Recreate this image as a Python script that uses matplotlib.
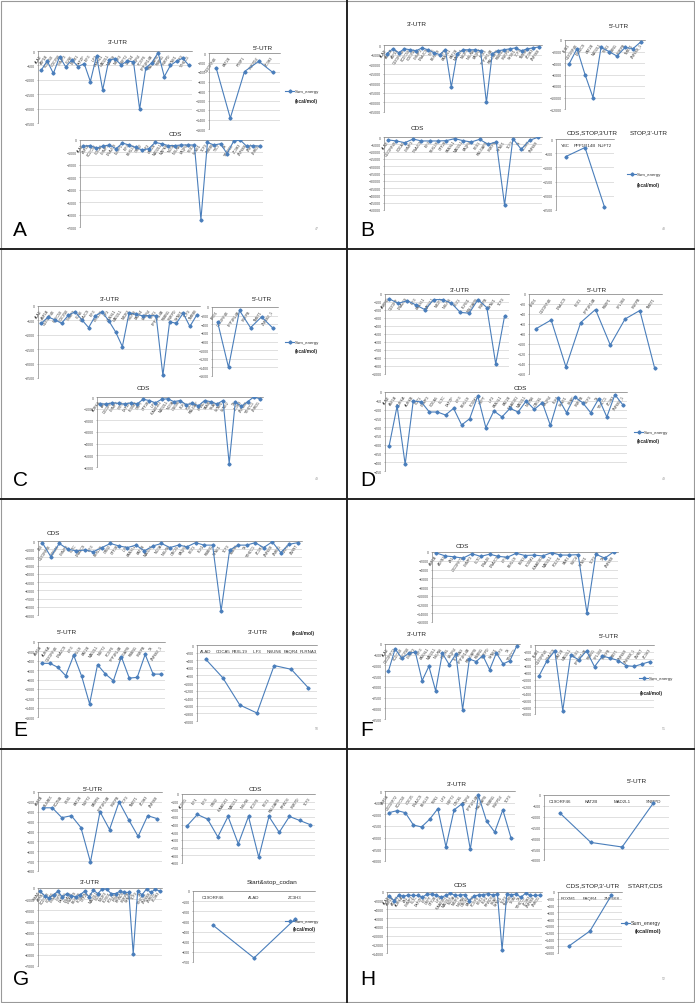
import numpy as np
import matplotlib
matplotlib.use("Agg")
import matplotlib.pyplot as plt
from matplotlib.lines import Line2D

plt.rcParams['font.family'] = ['Liberation Sans', 'DejaVu Sans']

# ---------------- data (Sum_energy, kcal/mol) ----------------
# panel A
a_utr3_genes = ["ALAD", "ATP1B", "CCDC50", "CDC25B", "CHMP3", "CLN6", "DCLK1", "DKFZP", "EIF3",
                "ILF3", "KANSL1", "MAD2L1", "MAPK8", "NR2F2", "NUFT2", "PA2G4", "PAQR4", "PCGF6",
                "PPP1R14B", "RALGAPB", "RSBN1", "SNRPD", "SYNE1", "TCF3", "YTHDC1"]
a_utr3_energy = [-670, -350, -780, -200, -550, -310, -540, -440, -1060, -170, -1350, -310, -270,
                 -480, -350, -370, -2020, -590, -400, -60, -890, -500, -350, -250, -500]
a_utr5_genes = ["C19ORF46", "KAT2B", "PTBP1", "SNRPD2", "ZC3H3"]
a_utr5_energy = [-310, -1370, -390, -175, -410]
a_cds_genes = ["ALAD", "ASF1B", "CCDC50", "CDCA5", "CHMP3", "DNAJC9", "DUSP1", "EIF3", "FBXL19",
               "GRB2", "ILF3", "KAT2B", "MAD2L1", "MAPK8", "NCOA", "NSUN6", "PAQR4", "PEX1", "SYNE1",
               "TCF3", "TMBIM", "TTC7", "TX", "YTHDC1", "ZC3H3", "ZNF668", "ZNF7", "ZNRD1"]
a_cds_energy = [-500, -450, -650, -500, -400, -700, -250, -400, -600, -800, -700, -200, -300, -450,
                -450, -400, -400, -400, -6400, -200, -400, -300, -1100, -100, 0, -500, -450, -500]

# panel B
b_utr3_genes = ["ALAD", "ASF1B", "ATP1B", "C19ORF46", "CCDC50", "CDC25B", "CHMP3", "DNAJC9", "EIF3",
                "FBXL19", "ILF3", "KANSL1", "KAT2B", "MAD2L1", "NR2F2", "NSUN6", "PAQR4", "PEX1",
                "PPP1R14B", "RALGAPB", "RSBN1", "SNRPD", "SYNE1", "TCF3", "TMBIM", "ZC3H3", "ZNF668"]
b_utr3_energy = [-4500, -2000, -4000, -2000, -2500, -3000, -1500, -2500, -4000, -5000, -2500, -22000,
                 -4500, -2500, -2500, -2500, -3000, -30000, -4500, -3000, -2500, -2000, -1500, -3000,
                 -2000, -1500, -1000]
b_utr5_genes = ["BUB1", "C19ORF46", "DNAJC9", "KAT2B", "MAD2L1", "PEX1", "RSBN1", "SNRPB", "TMBT1",
                "ZNF668_1"]
b_utr5_energy = [-4200, -1500, -6000, -10000, -1300, -2000, -2800, -1300, -1500, -300]
b_cds_genes = ["ALAD", "C19ORF46", "CDCA5", "CHMP3", "DNAJC9", "EIF3", "FBXL19", "GTF2E", "KANSL1",
               "MAD2L1", "PAQR4", "PEX1", "RALGAPB", "SNRPB", "SYNE1", "TCF3", "TX", "ZC3H3", "ZNF668"]
b_cds_energy = [-2000, -2700, -3900, -1400, -2700, -2700, -2700, -2500, -1100, -2500, -3400, -1600,
                -5000, -3400, -46600, -1100, -8400, -2300, -200]
b_stop_genes = ["YBC", "PPP1R14B", "NUFT2"]
b_stop_energy = [-620, -300, -2380]

# panel C
c_utr3_genes = ["ALAD", "ASF1B", "C19ORF46", "CCDC50", "CDC25B", "CHMP3", "CLN6", "DNAJC9", "EIF3",
                "FBXL19", "ILF3", "KANSL1", "MAD2L1", "NR2F2", "NSUN6", "PA2G4", "PAQR4", "PEX1",
                "PPP1R14B", "RSBN1", "SNRPD", "SYNE1", "TCF3", "TMBIM"]
c_utr3_energy = [-600, -380, -480, -600, -320, -200, -480, -750, -340, -200, -520, -900, -1410, -230,
                 -290, -340, -330, -340, -2410, -550, -600, -250, -710, -320]
c_utr5_genes = ["BRD1", "C19ORF46", "PPP1R14B", "SNRPB", "TMBT1", "ZNF668_1"]
c_utr5_energy = [-340, -1400, -80, -480, -230, -480]
c_cds_genes = ["AURKA", "AXL", "C20ORF", "CHMP3", "CRTC", "DKFZP", "FOXM1", "GRPT", "GTF2E", "ILF3",
               "KIAA0101", "MAD2L1", "NCOA", "OSGIN", "PLK1", "PQLC", "RALGAP", "RFWD", "SAMD",
               "SKAP", "SYNE1", "SYNE2", "TX", "ZC3H3", "ZNF668", "YTHDC1", "ZNRD1"]
c_cds_energy = [-600, -600, -500, -550, -600, -500, -600, -200, -300, -500, -200, -150, -400, -300,
                -650, -550, -750, -300, -400, -600, -300, -5700, -400, -800, -400, 0, -150]

# panel D
d_utr3_genes = ["ANKRD", "C19ORF", "DNAJC9", "EIF3", "KANSL1", "MAD2L1", "NR2F2", "NSUN6", "PEX1",
                "PLRG1", "RALGAPB", "SNRPB", "SYNE1", "TCF3"]
d_utr3_energy = [-62, -117, -83, -137, -196, -70, -70, -115, -230, -240, -70, -170, -875, -275]
d_utr5_genes = ["BRD1", "C19ORF46", "DNAJC9", "PEX1", "PPP1R14B", "RSBP1", "SPL384", "SNRPB", "TMBT1"]
d_utr5_energy = [-69, -52, -146, -57, -31, -102, -50, -33, -148]
d_cds_genes = ["ALAD", "ASF1B", "AURKA", "AURKB", "CDT1", "CHMP3", "CDCA5", "CLTC", "DKFZP", "EIF3",
               "FBXL19", "FOXM1", "GRPT", "ILF3", "KANSL1", "KAT2B", "KIAA0101", "MAD2L1", "NSUN6",
               "ORC6L", "PAQR4", "PLK1", "SYNE1", "SKAP", "SNRPB", "TCF3", "TX", "YTHDC1", "ZC3H3",
               "ZNF668_1"]
d_cds_energy = [-310, -80, -412, -51, -57, -114, -114, -131, -93, -188, -152, -23, -203, -108, -142,
                -93, -114, -51, -99, -61, -190, -36, -118, -28, -61, -118, -38, -142, -15, -74]

# panel E
e_cds_genes = ["ABI", "C19ORF46", "CDCA5", "CHMP3", "CLTC", "DNAJC9", "EIF3", "FBXL19", "GRB2",
               "GTF2E", "ILF3", "KANSL1", "KAT2B", "MAD2L1", "NCOA", "NSUN6", "ORC6L", "PAQR4",
               "PEX1", "PLK1", "RSBN1", "SYNE1", "TCF3", "TMBIM", "TX", "YTHDC1", "ZC3H3", "ZNF668",
               "ZNRD1", "ZNF7", "ZWINT"]
e_cds_energy = [-200, -1900, -300, -1000, -1200, -1100, -1300, -800, -300, -600, -800, -500, -1200,
                -600, -300, -800, -500, -700, -200, -500, -500, -8500, -1100, -500, -500, -200, -800,
                -100, -1400, -400, -200]
e_utr5_genes = ["ASF1B", "AURKA", "C19ORF46", "DNAJC9", "EIF3", "FBXL19", "KAT2B", "MAD2L1", "NUFT2",
                "PCGF6", "PPP1R14B", "RALGAPB", "RSBN1", "SNRPB", "TX", "ZNF668_1"]
e_utr5_energy = [-455, -455, -540, -720, -285, -730, -1320, -485, -685, -825, -315, -770, -755, -265,
                 -685, -685]
e_utr3_genes = ["ALAD", "CDCA5", "FBXL19", "ILF3", "NSUN6", "PAQR4", "PLRNA3"]
e_utr3_energy = [-370, -860, -1580, -1790, -540, -640, -1130]

# panel F
f_cds_genes = ["ASF1B", "ATXN1", "AXL", "C20ORF72", "CHMP3", "CLTC", "DNAJB", "DNAJC9", "EIF3",
               "FBXL19", "FEN1", "FOXM1", "KIAA0101", "MAD2L1", "POLD1", "SAR1", "SMC4", "SYNE1",
               "TCF3", "TX", "ZNF668"]
f_cds_energy = [-230, -900, -1100, -1400, -400, -1000, -500, -1000, -1200, -300, -800, -700, -900,
                -150, -700, -700, -600, -14000, -500, -1400, 0]
f_utr3_genes = ["ALAD", "C20ORF72", "CCDC50", "CDC25B", "CHMP3", "EIF3", "KANSL1", "MAD2L1", "NSUN6",
                "ORC6L", "PAQR4", "PLRNA3", "PPP1R14B", "RALGAPB", "RSBN1", "SNRPD", "SYNE1", "TCF3",
                "TX", "YTHDC1"]
f_utr3_energy = [-1270, -230, -670, -430, -380, -1710, -1040, -2180, -430, -960, -470, -3060, -700,
                 -820, -540, -1200, -420, -930, -780, -110]
f_utr5_genes = ["BUB1", "C19ORF46", "DNAJC9", "KAT2B", "MAD2L1", "PEX1", "PPP1R14B", "RSBN1",
                "SPL384", "SNRPB", "TMBT1", "ZNF668", "ZNF668_1", "ZWINT", "ZC3H3"]
f_utr5_energy = [-900, -460, -170, -1900, -290, -430, -170, -630, -320, -380, -450, -600, -620, -550,
                 -480]

# panel G
g_utr5_genes = ["ASF1B", "BUMBX", "CCZNB", "FBS1", "KAT2B", "NUFT2", "PABPN", "PPP1R14B", "SNRPB",
                "TCF3", "TMBT1", "ZC3H3", "ZNF668"]
g_utr5_energy = [-160, -160, -260, -240, -360, -710, -200, -380, -100, -280, -450, -240, -270]
g_cds_genes = ["ACOX1", "EIF1", "EIF3", "GRB2", "KIAA0101", "MAD2L1", "NSUN6", "PCGF6", "PEX1",
               "RALGAPB", "RFWD3", "SNRPD", "TCF3"]
g_cds_energy = [-415, -267, -328, -560, -293, -650, -293, -826, -293, -500, -293, -345, -398]
g_utr3_genes = ["SMAD", "ATXN1", "CCDC50", "CDCA5", "CHMP3", "CHTF", "DKFZP", "DNAJB", "DNAJC9",
                "FBXL19", "FOXM1", "GTF2E", "ILF3", "MAD2L1", "NCOA", "NR2F2", "PLRG1", "POLD1",
                "PTBP1", "RFWD3", "SNRPB", "SYNE1", "TCF3", "TX", "YTHDC1", "ZNF668", "ZNRD1", "ZC3H3"]
g_utr3_energy = [-300, -700, -900, -600, -300, -800, -500, -700, -800, -600, -300, -800, -200, -500,
                 -100, -100, -500, -500, -300, -400, -400, -5900, -300, -600, -100, -400, -100, -300]
g_codon_genes = ["C19ORF46", "ALAD", "ZC3H3"]
g_codon_energy = [-340, -660, -280]

# panel H
h_utr3_genes = ["ASF1B", "C20ORF72", "CCDC50", "CDC25", "DNAJC9", "FBXL19", "FEN1", "ILF3", "NUFT2",
                "ORC6L", "PAQR4", "PPP1R14B", "RALGAPB", "RSBN1", "SNRPD2", "TCF3"]
h_utr3_energy = [-930, -840, -930, -1460, -1540, -1210, -760, -2390, -810, -540, -2500, -190, -1290,
                 -1760, -810, -2000]
h_utr5_genes = ["C19ORF46", "KAT2B", "MAD2L1", "SNRPD"]
h_utr5_energy = [-820, -2190, -2400, -370]
h_cds_genes = ["ALAD", "ASF1B", "ATXN1", "AURKA", "AXL", "CHMP3", "CLTC", "DKFZP", "EIF3", "GRPT",
               "GTF2E", "ILF3", "KIAA0101", "MAD2L1", "NCOA", "NR2F2", "NSUN6", "ORC6L", "PAQR4",
               "PCGF6", "PEX1", "PLK1", "RFWD3", "SKAP", "SYNE1", "TCF3", "TMBIM", "TRIM", "TX",
               "YTHDC1", "ZC3H3", "ZNF668", "ZNRD1"]
h_cds_energy = [-1000, -2000, -700, -1000, -700, -800, -800, -1200, -500, -500, -700, -1200, -800,
                -300, -800, -700, -600, -2000, -900, -700, -600, -400, -700, -500, -13300, -500, -600,
                -500, -1200, -300, -800, -800, -700]
h_stop_genes = ["FOXM1", "PAQR4", "ZNF668"]
h_stop_energy = [-1600, -1150, -100]

# ---------------- drawing ----------------
W, H = 695, 1004
BLUE = '#4a7ebb'
fig = plt.figure(figsize=(W / 100, H / 100), dpi=100)


def chart(ox, oy, box, title, tpos, labels, values, ymin, step, rotate=True):
    l, t, r, b = box
    ax = fig.add_axes([(ox + l) / W, 1 - (oy + b) / H, (r - l) / W, (b - t) / H])
    x = np.arange(len(values))
    ax.plot(x, values, color=BLUE, lw=0.8, marker='D', ms=1.6, zorder=3)
    ax.set_xlim(-0.5, len(values) - 0.5)
    ax.set_ylim(ymin, 0)
    ax.set_yticks(np.arange(0, ymin - step / 2, -step))
    ax.yaxis.grid(True, color='#c8c8c8', lw=0.4)
    ax.set_axisbelow(True)
    for s in ['right', 'bottom']:
        ax.spines[s].set_visible(False)
    for s in ['left', 'top']:
        ax.spines[s].set_color('#868686')
        ax.spines[s].set_linewidth(0.5)
    ax.tick_params(axis='y', labelsize=2.6, labelcolor='#555555', length=1, width=0.4,
                   color='#868686', pad=1)
    ax.xaxis.tick_top()
    ax.set_xticks(x)
    if rotate:
        ax.set_xticklabels(labels, rotation=55, ha='right', va='center',
                           rotation_mode='anchor', fontsize=2.6, color='#333333')
        ax.tick_params(axis='x', length=0, pad=-2.5)
    else:
        ax.set_xticklabels(labels, va='top', fontsize=3.2, color='#333333')
        ax.tick_params(axis='x', length=0, pad=-3)
    fig.text((ox + tpos[0]) / W, 1 - (oy + tpos[1]) / H, title, ha='center', va='center',
             fontsize=4.6, color='#222222')
    return ax


def legend(ox, oy, lx, ly, kx, ky, show_series=True, size=3.2):
    if show_series:
        fig.add_artist(Line2D([(ox + lx) / W, (ox + lx + 9) / W], [1 - (oy + ly) / H] * 2,
                              color=BLUE, lw=0.8))
        fig.add_artist(Line2D([(ox + lx + 4.5) / W], [1 - (oy + ly) / H], color=BLUE,
                              marker='D', ms=1.6))
        fig.text((ox + lx + 10) / W, 1 - (oy + ly) / H, "Sum_energy", fontsize=size,
                 va='center', color='#333333')
    fig.text((ox + kx) / W, 1 - (oy + ky) / H, "(kcal/mol)", fontsize=size + 0.3,
             fontweight='bold', va='center', color='#222222')


def letter(ox, oy, s, num):
    fig.text((ox + 13) / W, 1 - (oy + 230) / H, s, fontsize=15, va='center', ha='left')
    fig.text((ox + 317) / W, 1 - (oy + 229) / H, num, fontsize=2.5, va='center',
             ha='center', color='#999999')


# A
ox, oy = 0, 0
chart(ox, oy, (38, 52, 192, 124), "3'-UTR", (118, 43), a_utr3_genes, a_utr3_energy, -2500, 500)
chart(ox, oy, (209, 54, 280, 130), "5'-UTR", (263, 48), a_utr5_genes, a_utr5_energy, -1600, 200)
chart(ox, oy, (80, 141, 263, 228), "CDS", (175, 135), a_cds_genes, a_cds_energy, -7000, 1000)
legend(ox, oy, 285, 92, 295, 102)
letter(ox, oy, "A", "47")

# B
ox, oy = 347, 0
chart(ox, oy, (37, 46, 195, 113), "3'-UTR", (70, 24), b_utr3_genes, b_utr3_energy, -35000, 5000)
chart(ox, oy, (218, 41, 298, 110), "5'-UTR", (272, 27), b_utr5_genes, b_utr5_energy, -12000, 2000)
chart(ox, oy, (37, 138, 195, 211), "CDS", (70, 129), b_cds_genes, b_cds_energy, -50000, 5000)
chart(ox, oy, (209, 140, 267, 211), "CDS,STOP,3'UTR", (245, 133), b_stop_genes, b_stop_energy,
      -2500, 500, rotate=False)
fig.text((ox + 302) / W, 1 - (oy + 133) / H, "STOP,3'-UTR", ha='center', va='center',
         fontsize=4.6, color='#222222')
legend(ox, oy, 280, 175, 290, 186)
letter(ox, oy, "B", "48")

# C
ox, oy = 0, 250
chart(ox, oy, (38, 57, 200, 129), "3'-UTR", (110, 50), c_utr3_genes, c_utr3_energy, -2500, 500)
chart(ox, oy, (212, 58, 278, 127), "5'-UTR", (262, 50), c_utr5_genes, c_utr5_energy, -1600, 200)
chart(ox, oy, (97, 148, 263, 218), "CDS", (143, 139), c_cds_genes, c_cds_energy, -6000, 1000)
legend(ox, oy, 285, 93, 295, 102)
letter(ox, oy, "C", "49")

# D
ox, oy = 347, 250
chart(ox, oy, (38, 45, 162, 125), "3'-UTR", (113, 41), d_utr3_genes, d_utr3_energy, -1000, 100)
chart(ox, oy, (182, 45, 315, 125), "5'-UTR", (250, 41), d_utr5_genes, d_utr5_energy, -160, 20)
chart(ox, oy, (38, 143, 280, 222), "CDS", (173, 138), d_cds_genes, d_cds_energy, -450, 50)
legend(ox, oy, 287, 183, 290, 191)
letter(ox, oy, "D", "49")

# E
ox, oy = 0, 500
chart(ox, oy, (38, 42, 302, 116), "CDS", (53, 34), e_cds_genes, e_cds_energy, -9000, 1000)
chart(ox, oy, (38, 143, 165, 218), "5'-UTR", (67, 132), e_utr5_genes, e_utr5_energy, -1600, 200)
chart(ox, oy, (197, 146, 317, 222), "3'-UTR", (258, 132), e_utr3_genes, e_utr3_energy, -2000, 200,
      rotate=False)
legend(ox, oy, 0, 0, 292, 133, show_series=False)
letter(ox, oy, "E", "50")

# F
ox, oy = 347, 500
chart(ox, oy, (85, 53, 271, 123), "CDS", (115, 47), f_cds_genes, f_cds_energy, -16000, 2000)
chart(ox, oy, (38, 145, 173, 220), "3'-UTR", (70, 135), f_utr3_genes, f_utr3_energy, -3500, 500)
chart(ox, oy, (188, 146, 307, 215), "5'-UTR", (262, 137), f_utr5_genes, f_utr5_energy, -2000, 200)
legend(ox, oy, 292, 179, 293, 193)
letter(ox, oy, "F", "51")

# G
ox, oy = 0, 750
chart(ox, oy, (38, 43, 162, 122), "5'-UTR", (93, 40), g_utr5_genes, g_utr5_energy, -800, 100)
chart(ox, oy, (182, 45, 315, 114), "CDS", (255, 40), g_cds_genes, g_cds_energy, -900, 100)
chart(ox, oy, (38, 139, 162, 217), "3'-UTR", (90, 133), g_utr3_genes, g_utr3_energy, -7000, 1000)
chart(ox, oy, (193, 142, 315, 213), "Start&stop_codan", (272, 133), g_codon_genes, g_codon_energy,
      -700, 100, rotate=False)
legend(ox, oy, 285, 172, 293, 180)
letter(ox, oy, "G", "")

# H
ox, oy = 347, 750
chart(ox, oy, (38, 42, 168, 112), "3'-UTR", (110, 35), h_utr3_genes, h_utr3_energy, -3000, 500)
chart(ox, oy, (197, 46, 322, 111), "5'-UTR", (290, 32), h_utr5_genes, h_utr5_energy, -3000, 500,
      rotate=False)
chart(ox, oy, (40, 143, 195, 204), "CDS", (113, 136), h_cds_genes, h_cds_energy, -14000, 2000)
chart(ox, oy, (211, 143, 275, 204), "CDS,STOP,3'-UTR     START,CDS", (267, 136), h_stop_genes,
      h_stop_energy, -1800, 200, rotate=False)
legend(ox, oy, 274, 174, 288, 182, size=3.8)
letter(ox, oy, "H", "52")

# slide borders and panel dividers
fig.add_artist(plt.Rectangle((0.002, 0.001), 0.996, 0.997, transform=fig.transFigure,
                             fill=False, ec='#999999', lw=0.8))
fig.add_artist(Line2D([347 / W] * 2, [0, 1], color='#222222', lw=1.4))
for yy in [250, 500, 750]:
    fig.add_artist(Line2D([0, 1], [1 - yy / H] * 2, color='#222222', lw=1.4))

fig.savefig("out.png", dpi=100)
